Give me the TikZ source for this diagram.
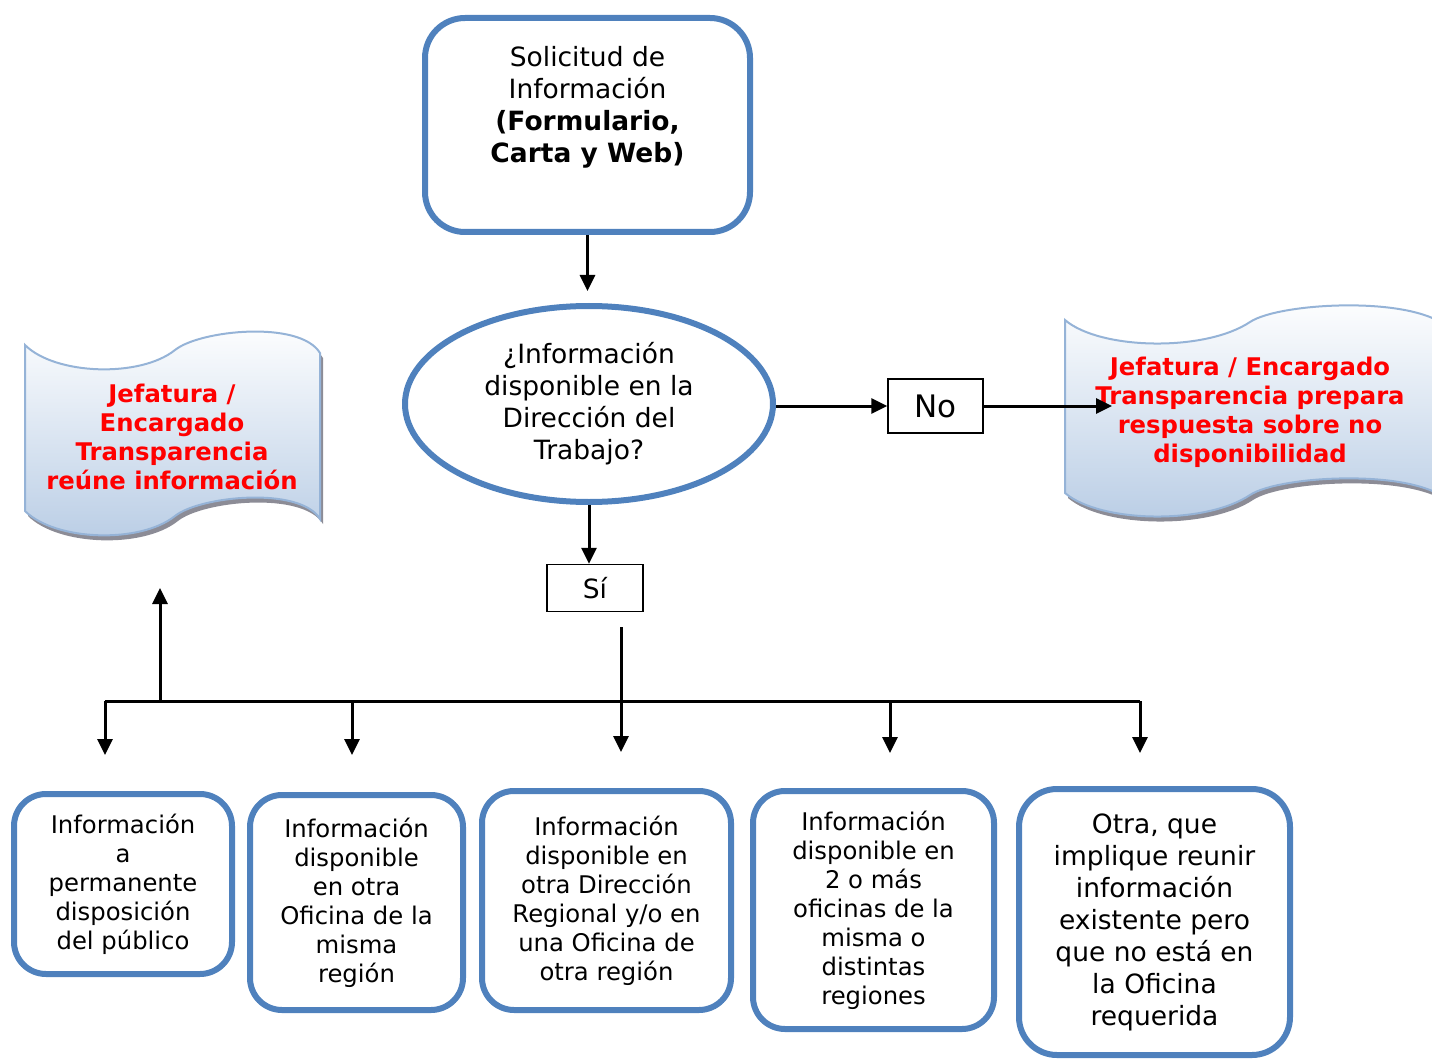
\documentclass[tikz,border=0pt]{standalone}
\usepackage{fontspec}
\setmainfont{DejaVu Sans}
\usetikzlibrary{arrows.meta,shapes.geometric}

\definecolor{boxblue}{RGB}{79,129,189}
\definecolor{waveline}{RGB}{149,179,215}
\definecolor{wavefill}{RGB}{185,205,229}
\definecolor{waveshadow}{RGB}{140,140,150}

% banner outlines: dip on the left, flat hump on the right
\newcommand\leftwave{(25,345) .. controls (55,375) and (140,378) .. (175,350) .. controls (200,330) and (300,320) .. (320,353) -- (320,519) .. controls (300,486) and (200,496) .. (175,516) .. controls (140,544) and (55,541) .. (25,511) -- cycle}
\newcommand\rightwave{(1065,320) .. controls (1100,350) and (1205,352) .. (1250,322) .. controls (1280,302) and (1420,295) .. (1450,330) -- (1450,503) .. controls (1420,468) and (1280,475) .. (1250,495) .. controls (1205,525) and (1100,523) .. (1065,493) -- cycle}

\tikzset{
  roundbox/.style={draw=boxblue, line width=6pt, rounded corners=32pt, inner sep=0pt, align=center},
  plainbox/.style={draw=black, line width=1.5pt, inner sep=0pt},
  bigtext/.style={font=\fontsize{26.5}{32}\selectfont, align=center},
  smalltext/.style={font=\fontsize{24.3}{29}\selectfont},
  redtext/.style={font=\fontsize{24.3}{29}\selectfont\bfseries, text=red, align=center},
  flow/.style={line width=3pt, -{Triangle[length=16pt,width=15pt]}},
  bus/.style={line width=3pt},
}

\begin{document}
\begin{tikzpicture}[x=1pt,y=-1pt]
\useasboundingbox (0,0) rectangle (1432,1059);

% Drawing banner on the left
\fill[waveshadow, shift={(3,5)}] \leftwave;
\shade[top color=white, bottom color=wavefill, draw=waveline, line width=2pt] \leftwave;
\node[redtext] (reune) at (172,437) {Jefatura /\\Encargado\\Transparencia\\reúne información};

% Drawing banner on the right
\fill[waveshadow, shift={(3,5)}] \rightwave;
\shade[top color=white, bottom color=wavefill, draw=waveline, line width=2pt] \rightwave;
\node[redtext] (prepara) at (1250,412) {Jefatura / Encargado\\Transparencia prepara\\respuesta sobre no\\disponibilidad};

% Drawing request box
\node[roundbox, rounded corners=40pt, minimum width=325pt, minimum height=214pt] (solicitud) at (587.5,125) {};
\node[bigtext] (solicitudtxt) at (587.5,107.5) {Solicitud de\\Información\\\textbf{(Formulario,}\\\textbf{Carta y Web)}};

% Drawing question
\node[ellipse, draw=boxblue, line width=6pt, inner sep=0pt, minimum width=368pt, minimum height=196pt, bigtext] (pregunta) at (589,404) {¿Información\\disponible en la\\Dirección del\\Trabajo?};

% Drawing answer boxes
\node[plainbox, minimum width=95pt, minimum height=54pt, font=\fontsize{31}{36}\selectfont] (no) at (935.5,406) {No};
\node[plainbox, minimum width=96pt, minimum height=47pt, font=\fontsize{26.5}{30}\selectfont] (si) at (595,588) {Sí};

% Drawing the five cases
\node[roundbox, smalltext, minimum width=218pt, minimum height=180pt] (permanente) at (123,884) {Información\\a\\permanente\\disposición\\del público};
\node[roundbox, smalltext, minimum width=213pt, minimum height=215pt] (otraoficina) at (356.5,902.5) {Información\\disponible\\en otra\\Oficina de la\\misma\\región};
\node[roundbox, smalltext, minimum width=249pt, minimum height=219pt] (otraregion) at (606.5,900.5) {Información\\disponible en\\otra Dirección\\Regional y/o en\\una Oficina de\\otra región};
\node[roundbox, smalltext, minimum width=241pt, minimum height=238pt] (variasoficinas) at (873.5,910) {Información\\disponible en\\2 o más\\oficinas de la\\misma o\\distintas\\regiones};
\node[roundbox, bigtext, rounded corners=38pt, minimum width=271pt, minimum height=266pt] (reunir) at (1154.5,922) {Otra, que\\implique reunir\\información\\existente pero\\que no está en\\la Oficina\\requerida};

% Free ends of the connectors
\coordinate (busleft) at (105,701);
\coordinate (busright) at (1140,701);
\coordinate (sibajo) at (621,627);
\coordinate (nofin) at (1112,408);
\coordinate (arriba) at (160,588);
\coordinate (d1) at (105,755);
\coordinate (d2) at (352,755);
\coordinate (d3) at (621,752);
\coordinate (d4) at (890,753);
\coordinate (d5) at (1140,753);

% Drawing connectors
\draw[flow, shorten >=12pt] (solicitud.south) -- (solicitud.south |- pregunta.north);
\draw[flow] (pregunta.east |- no.west) -- (no.west);
\draw[flow] (no.east) -- (no.east -| nofin);
\draw[flow] (pregunta.south) -- (pregunta.south |- si.north);
\draw[bus] (busleft) -- (busright);
\draw[flow] (sibajo) -- (d3);
\draw[flow] (arriba |- busleft) -- (arriba);
\foreach \d in {d1,d2,d4,d5}
  \draw[flow] (\d |- busleft) -- (\d);
\end{tikzpicture}
\end{document}
